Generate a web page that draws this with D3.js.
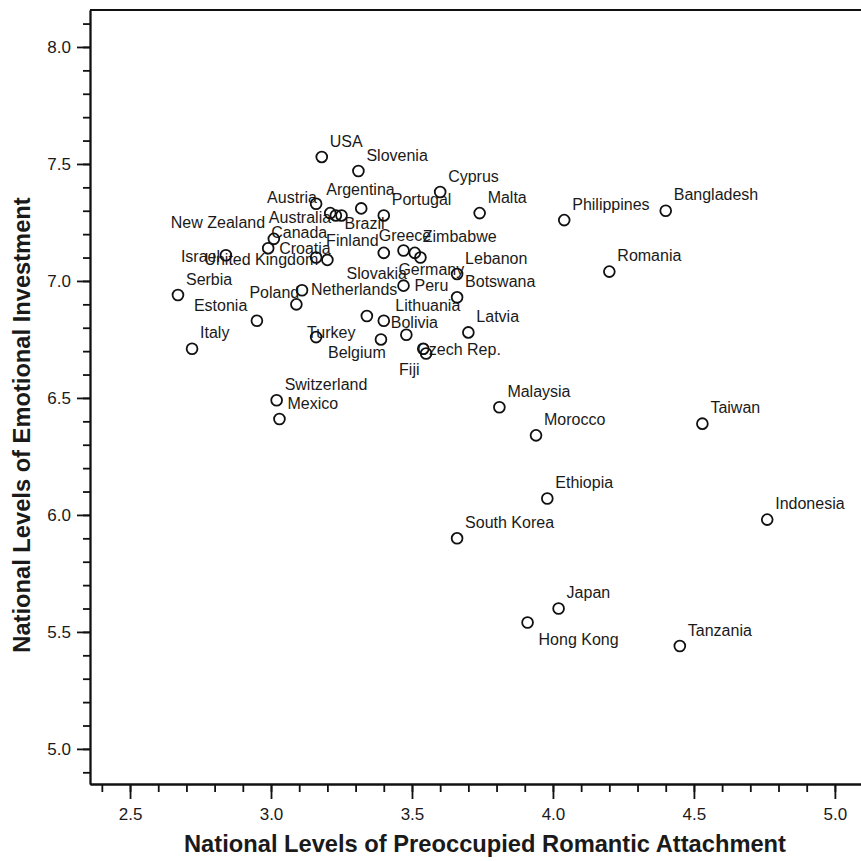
<!DOCTYPE html>
<html>
<head>
<meta charset="utf-8">
<script src="https://cdn.jsdelivr.net/npm/d3@7"></script>
<style>
  body { margin: 0; background: #fff; }
  svg { display: block; font-family: "Liberation Sans", Arial, sans-serif; }
</style>
</head>
<body>
<script>
// data
var countries = ["USA", "Slovenia", "Cyprus", "Argentina", "Portugal", "Austria", "Canada", "Australia",
  "Brazil", "Malta", "Philippines", "Bangladesh", "New Zealand", "Croatia", "Israel", "Finland",
  "United Kingdom", "Greece", "Slovakia", "Zimbabwe", "Germany", "Lebanon", "Romania", "Serbia",
  "Peru", "Botswana", "Netherlands", "Poland", "Estonia", "", "Bolivia", "Turkey", "Belgium",
  "Lithuania", "Latvia", "Czech Rep.", "Fiji", "Italy", "Switzerland", "Mexico", "Malaysia",
  "Morocco", "Taiwan", "Ethiopia", "Indonesia", "South Korea", "Japan", "Hong Kong", "Tanzania"];
var preoccupied = [3.18, 3.31, 3.60, 3.32, 3.40, 3.16, 3.21, 3.23,
  3.25, 3.74, 4.04, 4.40, 3.01, 2.99, 2.84, 3.16,
  3.20, 3.40, 3.47, 3.51, 3.53, 3.66, 4.20, 2.67,
  3.47, 3.66, 3.11, 3.09, 2.95, 3.34, 3.40, 3.16, 3.39,
  3.48, 3.70, 3.54, 3.55, 2.72, 3.02, 3.03, 3.81,
  3.94, 4.53, 3.98, 4.76, 3.66, 4.02, 3.91, 4.45];
var emotional = [7.53, 7.47, 7.38, 7.31, 7.28, 7.33, 7.29, 7.28,
  7.28, 7.29, 7.26, 7.30, 7.18, 7.14, 7.11, 7.10,
  7.09, 7.12, 7.13, 7.12, 7.10, 7.03, 7.04, 6.94,
  6.98, 6.93, 6.96, 6.90, 6.83, 6.85, 6.83, 6.76, 6.75,
  6.77, 6.78, 6.71, 6.69, 6.71, 6.49, 6.41, 6.46,
  6.34, 6.39, 6.07, 5.98, 5.90, 5.60, 5.54, 5.44];
var xTicks = [2.5, 3.0, 3.5, 4.0, 4.5, 5.0];
var yTicks = [5.0, 5.5, 6.0, 6.5, 7.0, 7.5, 8.0];

// label nudges in px (default: up and to the right)
var labelNudge = {
  "Argentina": [-35, -19], "Austria": [-49, -6], "Canada": [-59, 19], "Australia": [-67, 2],
  "Brazil": [3, 8], "New Zealand": [-103, -16], "Croatia": [11, 0], "Israel": [-45, 1],
  "Finland": [10, -17], "United Kingdom": [-123, 0], "Greece": [-5, -17], "Slovakia": [-57, 23],
  "Germany": [-22, 12], "Peru": [11, 0], "Netherlands": [9, -1], "Poland": [-47, -12],
  "Estonia": [-63, -15], "Bolivia": [7, 2], "Turkey": [-9, -5], "Belgium": [-53, 13],
  "Lithuania": [-11, -29], "Czech Rep.": [-6, 1], "Fiji": [-27, 16], "Hong Kong": [11, 17]
};

var data = countries.map(function (c, i) {
  return { name: c, x: preoccupied[i], y: emotional[i] };
});

var W = 861, H = 861;
var margin = { left: 90, top: 10, right: 880, bottom: 784 };

var svg = d3.select('body').append('svg')
  .attr('width', W)
  .attr('height', H);

var x = d3.scaleLinear().domain([2.358, 5.16]).range([margin.left, margin.right]);
var y = d3.scaleLinear().domain([4.85, 8.158]).range([margin.bottom, margin.top]);

var tenths = function (a, b) {
  var out = [];
  for (var v = a; v <= b; v += 1) out.push(v / 10);
  return out;
};

// minor ticks
svg.append('g')
  .attr('class', 'y-minor')
  .attr('transform', 'translate(' + margin.left + ',0)')
  .call(d3.axisLeft(y).tickValues(tenths(49, 81)).tickSize(7).tickSizeOuter(0).tickFormat(''));
svg.append('g')
  .attr('class', 'x-minor')
  .attr('transform', 'translate(0,' + margin.bottom + ')')
  .call(d3.axisBottom(x).tickValues(tenths(24, 51)).tickSize(8).tickSizeOuter(0).tickFormat(''));

// major ticks
svg.append('g')
  .attr('class', 'y-axis')
  .attr('transform', 'translate(' + margin.left + ',0)')
  .call(d3.axisLeft(y).tickValues(yTicks).tickSize(13).tickSizeOuter(0).tickPadding(6).tickFormat(d3.format('.1f')));
svg.append('g')
  .attr('class', 'x-axis')
  .attr('transform', 'translate(0,' + margin.bottom + ')')
  .call(d3.axisBottom(x).tickValues(xTicks).tickSize(15).tickSizeOuter(0).tickPadding(9).tickFormat(d3.format('.1f')));

svg.selectAll('.tick line, .domain')
  .attr('stroke', '#111')
  .attr('stroke-width', 1.8);
svg.selectAll('.y-axis text, .x-axis text')
  .attr('fill', '#1a1a1a')
  .style('font-size', '17px')
  .style('font-family', '"Liberation Sans", Arial, sans-serif');

// top frame
svg.append('line')
  .attr('x1', margin.left).attr('x2', margin.right)
  .attr('y1', y(8.158)).attr('y2', y(8.158))
  .attr('stroke', '#111')
  .attr('stroke-width', 1.8);

// labels
svg.append('g')
  .selectAll('text')
  .data(data.filter(function (d) { return d.name !== ''; }))
  .enter()
  .append('text')
  .attr('x', function (d) { return x(d.x) + (labelNudge[d.name] || [8, -16])[0]; })
  .attr('y', function (d) { return y(d.y) + (labelNudge[d.name] || [8, -16])[1]; })
  .attr('dy', '0.35em')
  .attr('fill', '#1a1a1a')
  .style('font-size', '16px')
  .text(function (d) { return d.name; });

// points
svg.append('g')
  .selectAll('circle')
  .data(data)
  .enter()
  .append('circle')
  .attr('cx', function (d) { return x(d.x); })
  .attr('cy', function (d) { return y(d.y); })
  .attr('r', 5.4)
  .attr('fill', 'none')
  .attr('stroke', '#111')
  .attr('stroke-width', 1.8);

// axis titles
svg.append('text')
  .attr('x', (margin.left + margin.right) / 2)
  .attr('y', 852)
  .attr('text-anchor', 'middle')
  .attr('fill', '#1a1a1a')
  .style('font-size', '23.7px')
  .style('font-weight', 'bold')
  .text('National Levels of Preoccupied Romantic Attachment');

svg.append('text')
  .attr('transform', 'translate(30,425) rotate(-90)')
  .attr('text-anchor', 'middle')
  .attr('fill', '#1a1a1a')
  .style('font-size', '23.7px')
  .style('font-weight', 'bold')
  .text('National Levels of Emotional Investment');
</script>
</body>
</html>
